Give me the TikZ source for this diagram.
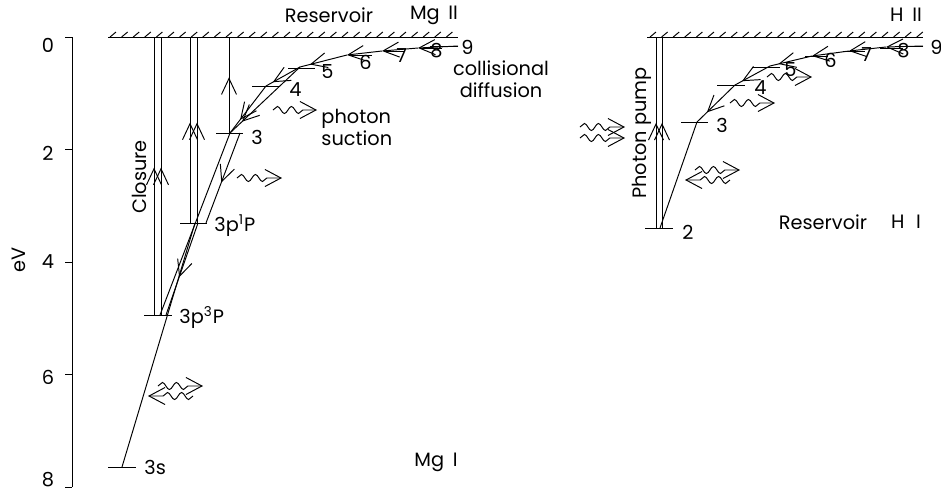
\documentclass[tikz,border=0pt]{standalone}
\usepackage{fontspec}
\setmainfont{Poppins}
\usetikzlibrary{arrows.meta,decorations.pathmorphing,decorations.markings}

\begin{document}
\begin{tikzpicture}[x=0.02cm,y=-0.02cm,line width=0.55pt,
    tip/.style={-{Straight Barb[length=3.2mm,width=3mm]}},
    midtip/.style={postaction={decorate},decoration={markings,mark=at position #1 with {\arrow{Straight Barb[length=3.2mm,width=3mm]}}}},
    photon/.style={decorate,decoration={snake,amplitude=2pt,segment length=8pt,post length=7pt},-{Straight Barb[length=3.2mm,width=3.4mm]}},
    lab/.style={inner sep=0pt,font=\fontsize{11}{12.5}\selectfont}]
    \useasboundingbox (0,0) rectangle (941,491);
    \draw (72,37) coordinate (ax0) -- (72,487) coordinate (ax8);
    \foreach \v/\y/\ly in {0/37/45,2/149.5/153,4/262/262,6/374.5/377,8/487/480}{
        \draw (65,\y) -- (72,\y);
        \node[lab] (tick\v) at (48,\ly) {\v};}
    \node[lab,rotate=90] (evlab) at (19,260) {eV};
    \draw (108,37) coordinate (mgres) -- (458,37);
    \foreach \x in {110,121.6,...,452}\draw (\x,37) -- ++(6,-5);
    \draw (647,37) coordinate (hres) -- (923,37);
    \foreach \x in {650,661.6,...,918}\draw (\x,37) -- ++(6,-5);
    \foreach \n/\a/\b/\y in {S/108/136/467,T/144/172/315,P/180/207/223,3/216/243/133,4/252/280/86,5/288/315/68,6/350/372/55,7/385/405/51,8/420/442/48,9/430/458/46}
        \draw (\a,\y) coordinate (mg\n) -- (\b,\y);
    \foreach \n/\a/\b/\y in {2/645/673/228,3/681/708/122,4/717/745/85,5/752/780/67,6/805/828/56,7/843/865/51,8/880/903/48,9/895/923/46}
        \draw (\a,\y) coordinate (h\n) -- (\b,\y);
    \node[lab,anchor=west] (lS) at (144,467) {3s};
    \node[lab,anchor=west] (lT) at (179,318) {3p\textsuperscript{3}P};
    \node[lab,anchor=west] (lP) at (214,226) {3p\textsuperscript{1}P};
    \foreach \t/\x/\y in {3/251/137,4/289/90,5/321/72,6/359/62,7/396/56,8/430/51,9/461/47}
        \node[lab,anchor=west] (lm\t) at (\x,\y) {\t};
    \foreach \t/\x/\y in {2/682/232,3/716/125,4/754/88,5/784/70,6/824/60,7/861/55,8/897/51,9/930/47}
        \node[lab,anchor=west] (lh\t) at (\x,\y) {\t};
    \foreach \x/\p in {154/0.53,161/0.53}\draw[midtip=\p] (\x,0 |- mgT) -- (\x,0 |- mgres);
    \foreach \x/\p in {190/0.54,197/0.54}\draw[midtip=\p] (\x,0 |- mgP) -- (\x,0 |- mgres);
    \draw[midtip=0.58] (229,0 |- mg3) -- (229,0 |- mgres);
    \foreach \x in {656,662}\draw[midtip=0.55] (\x,0 |- h2) -- (\x,0 |- hres);
    \coordinate (c9) at (458,46);\coordinate (c8) at (418,48);\coordinate (c7) at (382,51);
    \coordinate (c6) at (347,55);\coordinate (c5) at (300,67);\coordinate (c4) at (266,86);
    \coordinate (c3) at (230,133);\coordinate (c3b) at (240,133);
    \coordinate (cP1) at (195,223);\coordinate (cP2) at (198,223);\coordinate (cP3) at (206,223);
    \coordinate (cT1) at (160,315);\coordinate (cT2) at (166,315);\coordinate (cS) at (122,467);
    \draw[tip] (c9) -- (c8);\draw[tip] (c8) -- (c7);\draw[tip] (c7) -- (c6);
    \draw[midtip=0.79] (c6) -- (c5);\draw[midtip=0.8] (c5) -- (c4);
    \draw[midtip=0.83] (c5) -- (c3);\draw[midtip=0.72] (c4) -- (c3);
    \draw (c3) -- (cT1);
    \draw[midtip=0.55] (c3b) -- (cP3);
    \draw[midtip=0.59] (cP2) -- (cT2);
    \draw (cS) -- (cP1);
    \coordinate (d9) at (923,46);\coordinate (d8) at (886,47);\coordinate (d7) at (849,51);
    \coordinate (d6) at (812,56);\coordinate (d5) at (770,66);\coordinate (d4) at (735,85);
    \coordinate (d3) at (697,122);\coordinate (d2) at (660,228);
    \draw[tip] (d9) -- (d8);\draw[tip] (d8) -- (d7);\draw[tip] (d7) -- (d6);
    \draw[midtip=0.8] (d6) -- (d5);\draw[midtip=0.8] (d5) -- (d4);
    \draw[midtip=0.74] (d4) -- (d3);\draw (d3) -- (d2);
    \draw[photon] (273,110) -- ++(44,0);
    \draw[photon] (237,178) -- ++(45,0);
    \draw[photon] (158,386) -- ++(45,0);
    \draw[photon] (193,396) -- ++(-45,0);
    \draw[photon] (767,77) -- ++(45,0);
    \draw[photon] (730,103) -- ++(45,0);
    \draw[photon] (695,170) -- ++(45,0);
    \draw[photon] (730,180) -- ++(-45,0);
    \draw[photon] (580,127) -- ++(45,0);
    \draw[photon] (580,138) -- ++(45,0);
    \node[lab] (mgresl) at (329,15) {Reservoir};
    \node[lab] (mgII) at (434,15) {Mg\hspace{0.45em}II};
    \node[lab] (mgI) at (436,462) {Mg\hspace{0.45em}I};
    \node[lab,rotate=90] (closl) at (139,177) {Closure};
    \node[lab,align=left,anchor=west] (suck) at (321,127) {photon\\suction};
    \node[lab,align=center] (coll) at (501,79) {collisional\\diffusion};
    \node[lab,rotate=90] (pump) at (642,133) {Photon pump};
    \node[lab] (hresl) at (823,222) {Reservoir};
    \node[lab] (hI) at (906,222) {H\hspace{0.6em}I};
    \node[lab] (hII) at (906,15) {H\hspace{0.45em}II};
\end{tikzpicture}
\end{document}
